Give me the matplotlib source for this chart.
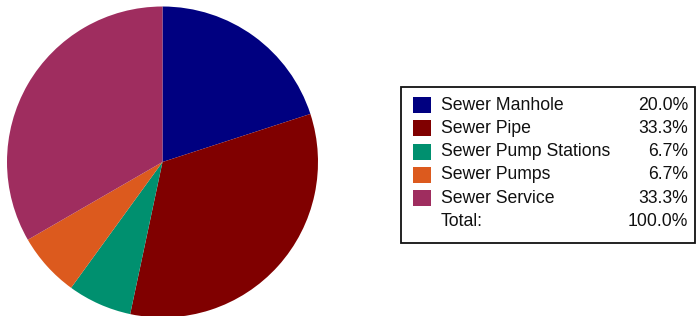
import matplotlib.pyplot as plt
from matplotlib.patches import Rectangle

# asset counts per category (read from the percentages)
categories = ["Sewer Manhole", "Sewer Pipe", "Sewer Pump Stations", "Sewer Pumps", "Sewer Service"]
counts = [3, 5, 1, 1, 5]
colors = ["#000080", "#800000", "#00906f", "#dc5a1e", "#9f2d5f"]

W, H = 700, 316
fig = plt.figure(figsize=(W / 100, H / 100), dpi=100)


def fx(x):
    return x / W


def fy(y):
    # pixel y measured from top
    return 1 - y / H


# pie, centre ~ (162.5, 162), radius ~155.5 px
cx, cy, r = 162.5, 162, 155.5
ax = fig.add_axes([fx(cx - r), fy(cy + r), 2 * r / W, 2 * r / H])
ax.pie(counts, colors=colors, startangle=90, counterclock=False, radius=1,
       wedgeprops=dict(linewidth=0))
ax.set_xlim(-1, 1)
ax.set_ylim(-1, 1)
ax.set_aspect("auto")
ax.axis("off")

# legend box drawn by hand
fig.patches.append(Rectangle((fx(401), fy(243)), fx(695) - fx(401), fy(87) - fy(243),
                             transform=fig.transFigure, facecolor="white",
                             edgecolor="#111111", linewidth=1.3))

total = sum(counts)
row0, step = 105, 23.3
fs = 12.7
for i, (name, c, col) in enumerate(zip(categories, counts, colors)):
    y = row0 + i * step
    fig.patches.append(Rectangle((fx(413), fy(y + 8)), fx(431) - fx(413), fy(y - 8) - fy(y + 8),
                                 transform=fig.transFigure, facecolor=col, edgecolor="none"))
    fig.text(fx(441), fy(y), name, fontsize=fs, family="Liberation Sans",
             va="center", ha="left", color="#111111")
    fig.text(fx(688), fy(y), f"{100 * c / total:.1f}%", fontsize=fs, family="Liberation Sans",
             va="center", ha="right", color="#111111")

y = row0 + 5 * step
fig.text(fx(441), fy(y), "Total:", fontsize=fs, family="Liberation Sans",
         va="center", ha="left", color="#111111")
fig.text(fx(688), fy(y), "100.0%", fontsize=fs, family="Liberation Sans",
         va="center", ha="right", color="#111111")

fig.savefig("out.png", dpi=100)
